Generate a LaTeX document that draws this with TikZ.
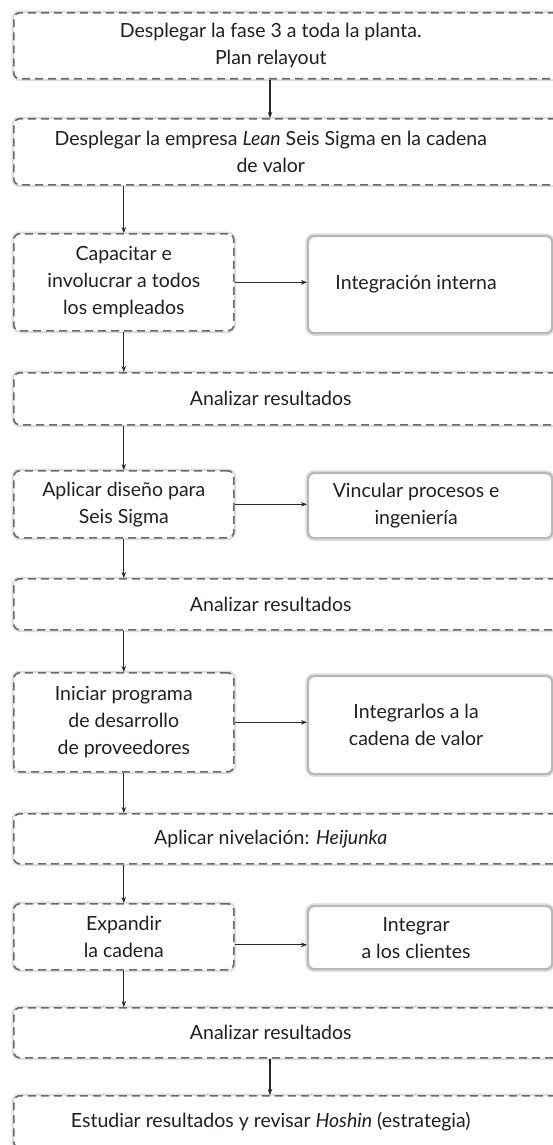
\documentclass[tikz,border=0pt]{standalone}
\usepackage{fontspec}
\setmainfont{Lato}
\usetikzlibrary{arrows.meta}
\definecolor{borde}{HTML}{6A6A6A}
\definecolor{halo}{HTML}{DDDDDD}
\definecolor{texto}{HTML}{231F20}
\tikzset{
  paso/.style={draw=borde, line width=1.6pt, dash pattern=on 8pt off 5pt,
    rounded corners=6pt, fill=white, text=texto, anchor=north west,
    inner sep=0pt, font=\fontsize{19.5}{27}\selectfont,
    preaction={draw=halo, line width=4.5pt, solid}},
  lado/.style={draw=black!28, line width=2.2pt, rounded corners=6pt,
    fill=white, text=texto, anchor=north west, inner sep=0pt,
    font=\fontsize{19.5}{27}\selectfont,
    preaction={draw=halo, line width=5.5pt}},
  flecha/.style={-{Stealth[length=6pt,width=4.5pt]}, line width=1.1pt, black!85}
}
\newcommand{\anchotxt}[1]{\parbox{514pt}{\centering #1}\kern60pt}
\newcommand{\ladotxt}[1]{\parbox{216pt}{\centering #1}\kern28pt}
\begin{document}
\begin{tikzpicture}[x=1pt,y=-1pt]
\useasboundingbox[fill=white] (0,0) rectangle (553,1145);
\coordinate (eje) at (270,0);

% columna principal
\node[paso, minimum height=66pt] (fase) at (13,12)
  {\anchotxt{Desplegar la fase 3 a toda la planta.\\ Plan relayout}};
\node[paso, minimum height=66pt] (cadena) at (13,118)
  {\anchotxt{Desplegar la empresa \emph{Lean} Seis Sigma en la cadena\\ de valor}};
\node[paso, minimum height=97pt, minimum width=220pt, align=center] (capacitar) at (13,233)
  {Capacitar e\\ involucrar a todos\\ los empleados};
\node[paso, minimum height=52pt] (analizar1) at (13,372)
  {\anchotxt{Analizar resultados}};
\node[paso, minimum height=67pt, minimum width=220pt, align=center] (aplicar) at (13,470)
  {Aplicar diseño para\\ Seis Sigma};
\node[paso, minimum height=51pt] (analizar2) at (13,578)
  {\anchotxt{Analizar resultados}};
\node[paso, minimum height=99pt, minimum width=220pt, align=center] (iniciar) at (13,672)
  {Iniciar programa\\ de desarrollo\\ de proveedores};
\node[paso, minimum height=50pt] (nivelar) at (13,813)
  {\anchotxt{Aplicar nivelación: \emph{Heijunka}}};
\node[paso, minimum height=66pt, minimum width=220pt, align=center] (expandir) at (13,903)
  {Expandir\\ la cadena};
\node[paso, minimum height=50pt] (analizar3) at (13,1007)
  {\anchotxt{Analizar resultados}};
\node[paso, minimum height=52pt] (estudiar) at (13,1095)
  {\anchotxt{Estudiar resultados y revisar \emph{Hoshin} (estrategia)}};

% columna derecha
\node[lado, minimum height=97pt] (integint) at (307,235)
  {\ladotxt{Integración interna}};
\node[lado, minimum height=65pt] (vincular) at (307,472)
  {\ladotxt{Vincular procesos e\\ ingeniería}};
\node[lado, minimum height=98pt] (integrar) at (307,675)
  {\ladotxt{Integrarlos a la\\ cadena de valor}};
\node[lado, minimum height=63pt] (clientes) at (307,905)
  {\ladotxt{Integrar\\ a los clientes}};

% flechas
\draw[flecha] (fase.south -| eje) -- (cadena.north -| eje);
\draw[flecha] (cadena.south -| capacitar) -- (capacitar.north);
\draw[flecha] (capacitar.east) -- (capacitar.east -| integint.west);
\draw[flecha] (capacitar.south) -- (capacitar.south |- analizar1.north);
\draw[flecha] (analizar1.south -| aplicar) -- (aplicar.north);
\draw[flecha] (aplicar.east) -- (aplicar.east -| vincular.west);
\draw[flecha] (aplicar.south) -- (aplicar.south |- analizar2.north);
\draw[flecha] (analizar2.south -| iniciar) -- (iniciar.north);
\draw[flecha] (iniciar.east) -- (iniciar.east -| integrar.west);
\draw[flecha] (iniciar.south) -- (iniciar.south |- nivelar.north);
\draw[flecha] (nivelar.south -| expandir) -- (expandir.north);
\draw[flecha] ([yshift=-8pt]expandir.east) -- ([yshift=-8pt]expandir.east -| clientes.west);
\draw[flecha] (expandir.south) -- (expandir.south |- analizar3.north);
\draw[flecha] (analizar3.south -| eje) -- (estudiar.north -| eje);
\end{tikzpicture}
\end{document}
